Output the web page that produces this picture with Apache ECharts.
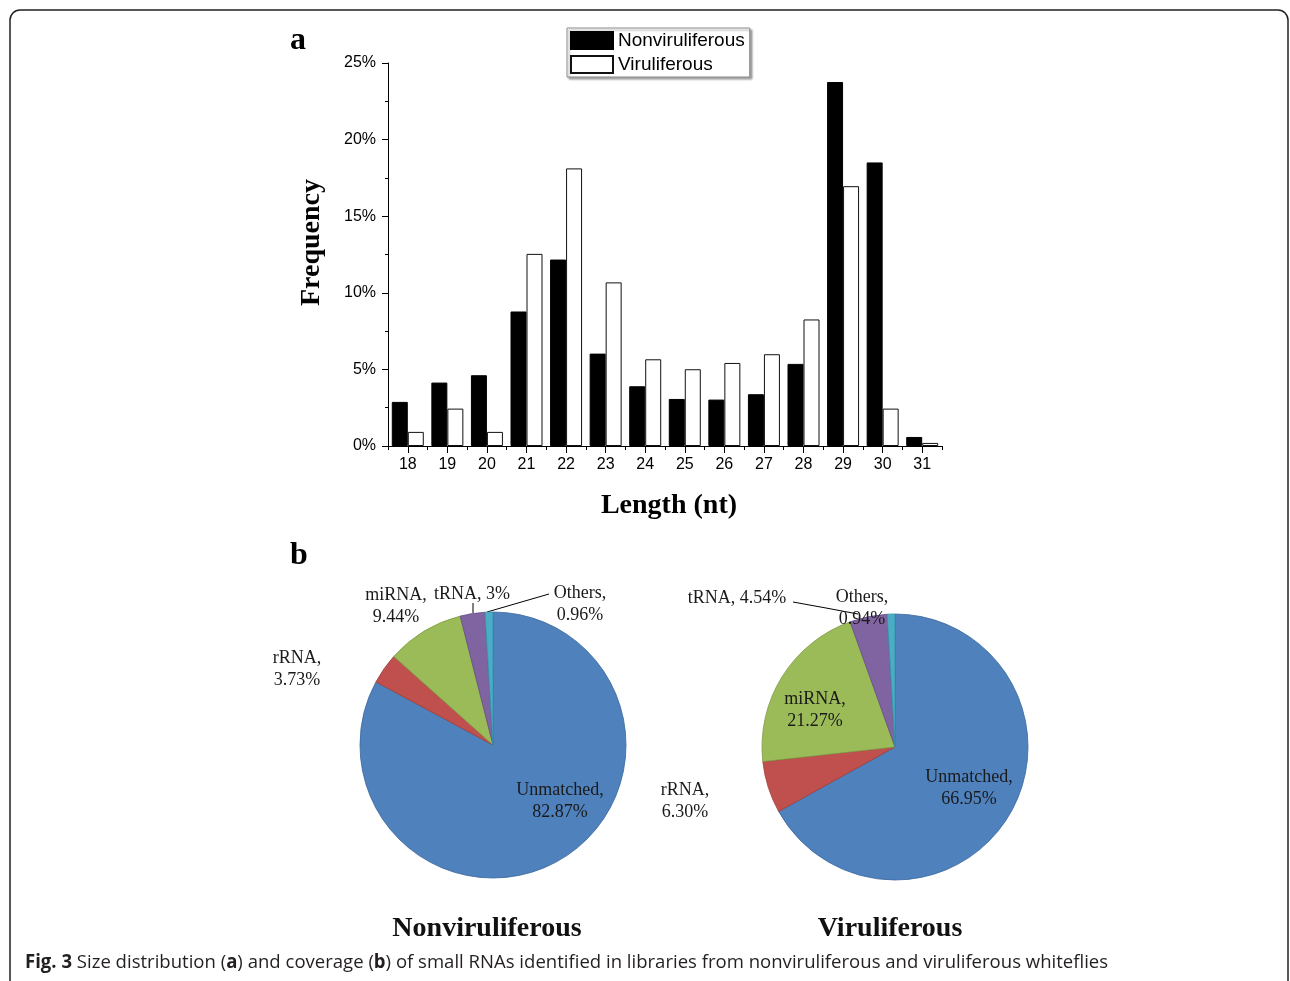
<!DOCTYPE html>
<html>
<head>
<meta charset="utf-8">
<script src="https://cdn.jsdelivr.net/npm/echarts@6/dist/echarts.min.js"></script>
<style>
html,body{margin:0;padding:0;background:#fff;}
#chart{width:1290px;height:981px;}
</style>
</head>
<body>
<div id="chart"></div>
<script>
// ---- data ----
const lengths = ['18','19','20','21','22','23','24','25','26','27','28','29','30','31'];
const nonviruliferousFreq = [2.88, 4.14, 4.62, 8.78, 12.17, 6.03, 3.90, 3.07, 3.03, 3.38, 5.36, 23.76, 18.51, 0.59];
const viruliferousFreq    = [0.92, 2.44, 0.92, 12.54, 18.12, 10.68, 5.66, 5.01, 5.42, 5.99, 8.26, 16.96, 2.44, 0.20];
const rnaClasses = ['Unmatched', 'rRNA', 'miRNA', 'tRNA', 'Others'];
const nonviruliferousCoverage = [82.87, 3.73, 9.44, 3, 0.96];
const viruliferousCoverage    = [66.95, 6.30, 21.27, 4.54, 0.94];
const seriesNames = ['Nonviruliferous', 'Viruliferous'];

// ---- styles ----
const sliceColors = {Unmatched:'#4F81BD', rRNA:'#C0504D', miRNA:'#9BBB59', tRNA:'#8064A2', Others:'#4BACC6'};
const sliceBorders = {Unmatched:'#3B679C', rRNA:'#9E3B38', miRNA:'#7E9B44', tRNA:'#654D86', Others:'#3590A8'};
const SERIF = '"Liberation Serif","Times New Roman",serif';
const SANS = '"Liberation Sans",Arial,sans-serif';

// label placement for pie labels (layout config)
const pieLabelPlacement = [
  {
    Unmatched:{x:560,y:801}, rRNA:{x:297,y:669}, miRNA:{x:396,y:606},
    tRNA:{x:472,y:594,oneLine:true,line:[[473,613],[473,608],[473,603]]},
    Others:{x:580,y:604,line:[[487,612],[518,603],[549,594]]}
  },
  {
    Unmatched:{x:969,y:788}, rRNA:{x:685,y:801}, miRNA:{x:815,y:710},
    tRNA:{x:737,y:598,oneLine:true,line:[[858,614],[826,608],[793,602]]},
    Others:{x:862,y:608}
  }
];

function fmtPct(v){ return (Number.isInteger(v) ? String(v) : v.toFixed(2)) + '%'; }

function pieData(values, pi){
  return rnaClasses.map((n,i)=>({
    name:n, value:values[i],
    itemStyle:{color:sliceColors[n], borderColor:sliceBorders[n], borderWidth:0.8},
    labelLine:{show: !!pieLabelPlacement[pi][n].line}
  }));
}

function pieSeries(values, pi, center){
  return {
    type:'pie', center:center, radius:133, startAngle:90, clockwise:true,
    data: pieData(values, pi),
    silent:true, animation:false,
    label:{
      show:true, position:'outside', color:'#1a1a1a',
      fontFamily:SERIF, fontSize:18, lineHeight:22, align:'center',
      formatter: p => pieLabelPlacement[pi][p.name].oneLine
        ? p.name + ', ' + fmtPct(p.value)
        : p.name + ',\n' + fmtPct(p.value)
    },
    labelLine:{show:true, smooth:false, lineStyle:{color:'#000', width:1}},
    labelLayout: function(params){
      const name = rnaClasses[params.dataIndex];
      const pl = pieLabelPlacement[pi][name];
      const o = {x:pl.x, y:pl.y, align:'center', verticalAlign:'middle', hideOverlap:false, moveOverlap:null};
      if (pl.line) o.labelLinePoints = pl.line;
      return o;
    }
  };
}

const chart = echarts.init(document.getElementById('chart'), null, {renderer:'canvas'});
const option = {
  backgroundColor:'#ffffff',
  animation:false,
  title:[
    {text:'a', left:285, top:20, textStyle:{fontFamily:SERIF, fontWeight:'bold', fontSize:32, color:'#000'}},
    {text:'b', left:285, top:535, textStyle:{fontFamily:SERIF, fontWeight:'bold', fontSize:32, color:'#000'}},
    {text:'Nonviruliferous', left:482, top:910, textAlign:'center', textStyle:{fontFamily:SERIF, fontWeight:'bold', fontSize:28, color:'#111'}},
    {text:'Viruliferous', left:885, top:910, textAlign:'center', textStyle:{fontFamily:SERIF, fontWeight:'bold', fontSize:28, color:'#111'}}
  ],
  legend:{
    data:seriesNames, orient:'vertical', left:567, top:28,
    icon:'rect', itemWidth:42, itemHeight:17, itemGap:5,
    padding:[3,5,3,3],
    borderColor:'#8a8a8a', borderWidth:1, backgroundColor:'#fff',
    shadowColor:'rgba(0,0,0,0.35)', shadowBlur:2, shadowOffsetX:2, shadowOffsetY:2,
    textStyle:{fontFamily:SANS, fontSize:19, color:'#000', padding:[0,0,0,0]},
    selectedMode:false
  },
  grid:{left:388, top:63, width:554, height:383, containLabel:false},
  xAxis:[
    {
      type:'category', data:lengths, boundaryGap:true,
      axisLine:{lineStyle:{color:'#000', width:1}},
      axisTick:{show:true, alignWithLabel:true, length:7, lineStyle:{color:'#000'}},
      axisLabel:{color:'#000', fontFamily:SANS, fontSize:16, margin:11},
      name:'Length (nt)', nameLocation:'middle', nameGap:46,
      nameTextStyle:{fontFamily:SERIF, fontWeight:'bold', fontSize:28, color:'#000', padding:[0,0,0,8]},
      splitLine:{show:false}
    },
    {
      type:'category', data:lengths, boundaryGap:true, position:'bottom', gridIndex:0,
      axisLine:{show:false}, axisLabel:{show:false},
      axisTick:{show:true, length:4, lineStyle:{color:'#000'}},
      splitLine:{show:false}
    }
  ],
  yAxis:{
    type:'value', min:0, max:25, interval:5,
    axisLine:{show:true, lineStyle:{color:'#000', width:1}},
    axisTick:{show:true, length:6, lineStyle:{color:'#000'}},
    minorTick:{show:true, splitNumber:2, length:3, lineStyle:{color:'#000'}},
    axisLabel:{formatter:'{value}%', color:'#000', fontFamily:SANS, fontSize:16, margin:12},
    splitLine:{show:false},
    name:'Frequency', nameLocation:'middle', nameGap:62, nameRotate:90,
    nameTextStyle:{fontFamily:SERIF, fontWeight:'bold', fontSize:28, color:'#000', padding:[0,0,0,24]}
  },
  series:[
    {
      name:seriesNames[0], type:'bar', data:nonviruliferousFreq, barWidth:16, barGap:'0%',
      itemStyle:{color:'#000', borderColor:'#000', borderWidth:1}, silent:true
    },
    {
      name:seriesNames[1], type:'bar', data:viruliferousFreq, barWidth:16, barGap:'0%',
      itemStyle:{color:'#fff', borderColor:'#111', borderWidth:1}, silent:true
    },
    pieSeries(nonviruliferousCoverage, 0, [493, 745]),
    pieSeries(viruliferousCoverage, 1, [895, 747])
  ],
  graphic:[
    {type:'rect', shape:{x:10, y:10, width:1278, height:1010, r:10}, style:{fill:null, stroke:'#222', lineWidth:1.5}, silent:true, z:-1},
    {type:'text', x:25, y:963, scaleX:0.976, style:{
      text:'{b|Fig. 3} Size distribution ({b|a}) and coverage ({b|b}) of small RNAs identified in libraries from nonviruliferous and viruliferous whiteflies',
      fontFamily:'"Open Sans","Noto Sans",sans-serif', fontSize:19, fill:'#231F20', verticalAlign:'middle',
      rich:{b:{fontFamily:'"Open Sans","Noto Sans",sans-serif', fontWeight:'bold', fontSize:19, fill:'#231F20'}}
    }}
  ]
};
chart.setOption(option);
</script>
</body>
</html>
